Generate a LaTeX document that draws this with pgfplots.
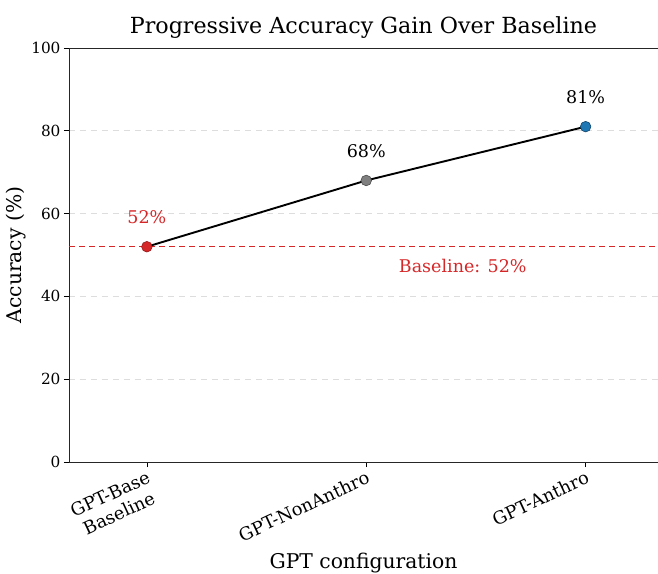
\documentclass[border=0pt]{standalone}
\usepackage{pgfplots}
\pgfplotsset{compat=1.18}
\usepackage{fontspec}
\setmainfont{DejaVu Serif}
\definecolor{mred}{HTML}{D62728}
\definecolor{mgray}{HTML}{7F7F7F}
\definecolor{mblue}{HTML}{1F77B4}
\definecolor{gridc}{HTML}{DDDDDD}
\begin{document}
\begin{tikzpicture}
\begin{axis}[
  at={(0,0)}, anchor=south west,
  scale only axis,
  width=589bp, height=414bp,
  xmin=-0.355, xmax=2.33,
  ymin=0, ymax=100,
  xtick={0,1,2},
  xticklabels={{GPT-Base\\Baseline},GPT-NonAnthro,GPT-Anthro},
  ytick={0,20,40,60,80,100},
  xtick pos=bottom, ytick pos=left,
  tick align=outside,
  major tick length=5bp,
  every tick/.style={black, line width=0.7bp},
  axis line style={line width=0.8bp, black!85},
  /pgf/number format/assume math mode=true,
  yticklabel style={font=\fontsize{15.3bp}{17bp}\selectfont},
  xticklabel style={font=\fontsize{17.8bp}{21bp}\selectfont, rotate=25, anchor=north east, align=center, inner sep=2bp},
  ymajorgrids,
  grid style={gridc, dashed, dash pattern=on 6bp off 5bp, line width=0.8bp},
  title={Progressive Accuracy Gain Over Baseline},
  title style={font=\fontsize{22.2bp}{25bp}\selectfont, yshift=0bp},
  xlabel={GPT configuration},
  ylabel={Accuracy (\%)},
  xlabel style={font=\fontsize{20.3bp}{22bp}\selectfont, at={(rel axis cs:0.5,0)}, anchor=center, yshift=-101bp},
  ylabel style={font=\fontsize{20.3bp}{22bp}\selectfont, yshift=-2bp},
  clip=false,
]
\addplot[mred, dashed, dash pattern=on 6bp off 4bp, line width=1.1bp, forget plot] coordinates {(-0.355,52) (2.33,52)};
\addplot[black, line width=1.9bp, mark=none] coordinates {(0,52) (1,68) (2,81)};
\addplot[only marks, mark=*, mark size=5.3bp, mark options={fill=mred, draw=mred!70!black, line width=0.6bp}] coordinates {(0,52)};
\addplot[only marks, mark=*, mark size=5.3bp, mark options={fill=mgray, draw=mgray!60!black, line width=0.6bp}] coordinates {(1,68)};
\addplot[only marks, mark=*, mark size=5.3bp, mark options={fill=mblue, draw=mblue!60!black, line width=0.6bp}] coordinates {(2,81)};
\node[font=\fontsize{17.5bp}{19bp}\selectfont, text=mred] at (axis cs:0,59.2) {52\%};
\node[font=\fontsize{17.5bp}{19bp}\selectfont] at (axis cs:1,75.2) {68\%};
\node[font=\fontsize{17.5bp}{19bp}\selectfont] at (axis cs:2,88.2) {81\%};
\node[font=\fontsize{17.5bp}{19bp}\selectfont, text=mred] at (axis cs:1.44,47.3) {Baseline: 52\%};
\end{axis}
\pgfresetboundingbox
\path[use as bounding box] (-69bp,-112bp) rectangle (589bp,462bp);
\end{tikzpicture}
\end{document}
